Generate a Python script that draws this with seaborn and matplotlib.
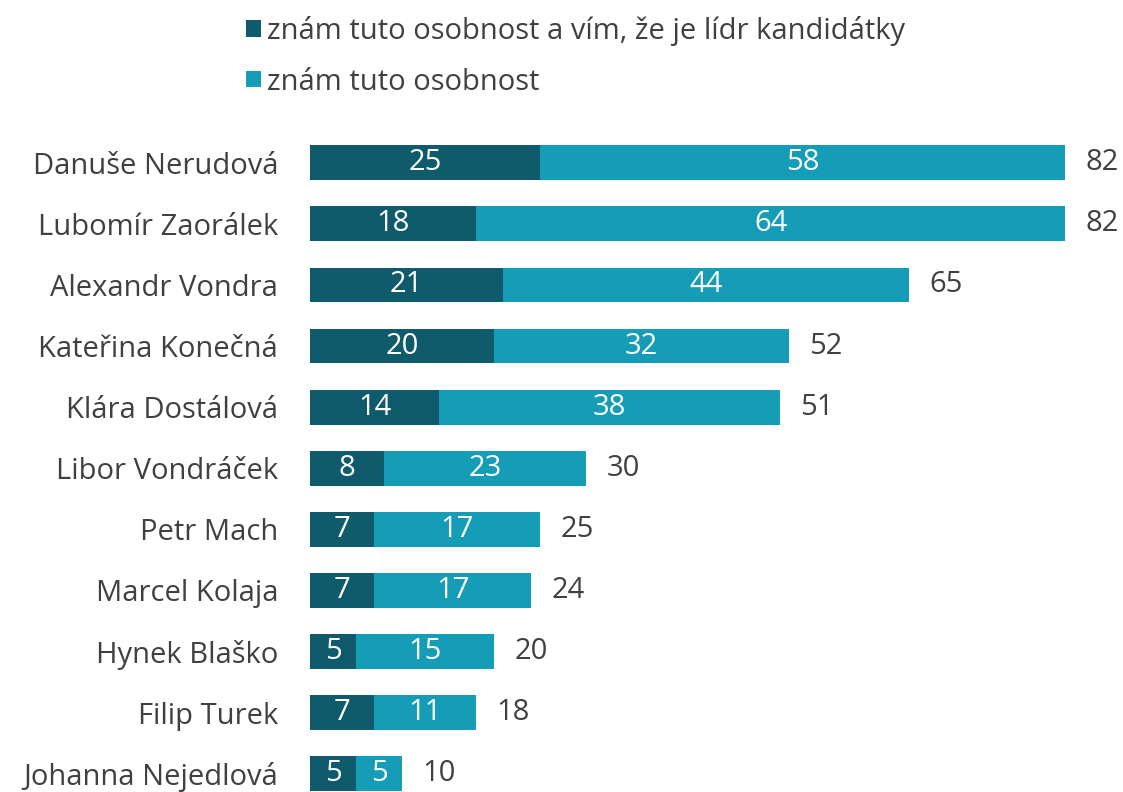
import pandas as pd
import matplotlib
matplotlib.use("Agg")
import matplotlib.pyplot as plt
import seaborn as sns

# data
names = ["Danuše Nerudová", "Lubomír Zaorálek", "Alexandr Vondra", "Kateřina Konečná",
         "Klára Dostálová", "Libor Vondráček", "Petr Mach", "Marcel Kolaja",
         "Hynek Blaško", "Filip Turek", "Johanna Nejedlová"]
leader = [25, 18, 21, 20, 14, 8, 7, 7, 5, 7, 5]
known = [58, 64, 44, 32, 38, 23, 17, 17, 15, 11, 5]
total = [82, 82, 65, 52, 51, 30, 25, 24, 20, 18, 10]

lab_leader = "znám tuto osobnost a vím, že je lídr kandidátky"
lab_known = "znám tuto osobnost"

dark = "#0f5b6b"
light = "#159db7"
txt = "#404040"
fs = 21

df = pd.DataFrame({"name": names, "leader": leader, "known": known, "total": total})

sns.set_theme(style="white")
plt.rcParams["font.family"] = ["Open Sans", "DejaVu Sans"]

fig = plt.figure(figsize=(11.23, 7.92), dpi=100)
ax = fig.add_axes([0.276, 0.0, 0.722, 0.823])

sns.barplot(data=df, x="total", y="name", color=light, width=0.57, ax=ax,
            saturation=1, label=lab_known, orient="h", linewidth=0)
sns.barplot(data=df, x="leader", y="name", color=dark, width=0.57, ax=ax,
            saturation=1, label=lab_leader, orient="h", linewidth=0)

for i, row in df.iterrows():
    ax.text(row["leader"] / 2, i, str(row["leader"]), ha="center", va="center",
            color="white", fontsize=fs)
    ax.text((row["leader"] + row["total"]) / 2, i, str(row["known"]), ha="center",
            va="center", color="white", fontsize=fs)
    ax.text(row["total"] + 2.2, i, str(row["total"]), ha="left", va="center",
            color=txt, fontsize=fs)

ax.set_xlim(0, 88)
ax.set_ylim(10.3, -0.37)
ax.set_xlabel("")
ax.set_ylabel("")
ax.set_xticks([])
ax.tick_params(axis="y", length=0, pad=23, labelsize=fs, labelcolor=txt)
sns.despine(ax=ax, left=True, bottom=True, top=True, right=True)

handles, labels = ax.get_legend_handles_labels()
order = [labels.index(lab_leader), labels.index(lab_known)]
leg = ax.legend([handles[k] for k in order], [labels[k] for k in order],
                loc="upper left", bbox_to_anchor=(0.209, 0.995),
                bbox_transform=fig.transFigure, frameon=False, fontsize=fs,
                handlelength=0.5, handleheight=0.5, handletextpad=0.2,
                labelspacing=0.75, borderaxespad=0.0)
for t in leg.get_texts():
    t.set_color(txt)

fig.savefig("out.png", dpi=100)
